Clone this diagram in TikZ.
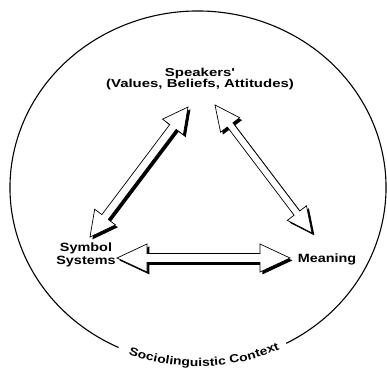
\documentclass[tikz,border=0pt]{standalone}
\usepackage{fontspec}
\usetikzlibrary{calc,decorations.text}
\newfontfamily\lblfont[FakeStretch=1.2]{Liberation Sans}
\newfontfamily\spkfont[FakeStretch=1.3]{Liberation Sans}

\begin{document}
\begin{tikzpicture}[x=1pt, y=1pt]
    \tikzstyle{lbl}=[inner sep=0pt, align=center, font=\lblfont\bfseries\fontsize{12}{13.5}\selectfont]
    \tikzstyle{barr}=[draw, line width=0.7pt, fill=white, line join=miter,
        preaction={fill=black, transform canvas={shift={(2.4pt,-2.4pt)}}}]
    \tikzset{blk/.style n args={3}{to path={
        let \p1=(\tikztostart), \p2=(\tikztotarget),
            \n1={atan2(\y2-\y1,\x2-\x1)}, \n2={veclen(\x2-\x1,\y2-\y1)} in
        [shift={(\p1)}, rotate=\n1]
        (0,0) -- (#1,#2) -- (#1,#3) -- (\n2-#1,#3) -- (\n2-#1,#2) -- (\n2,0)
        -- (\n2-#1,-#2) -- (\n2-#1,-#3) -- (#1,-#3) -- (#1,-#2) -- cycle}}}

    \useasboundingbox (0,0) rectangle (387,368);

    % context ring
    \draw[line width=1.1pt] (198,180.5) ++(298:188 and 176.5)
        arc[start angle=298, end angle=605, x radius=188, y radius=176.5];
    \path[decorate, decoration={text along path, text align=center, raise=-2.5pt,
        text={|\lblfont\bfseries\fontsize{11.5}{12}\selectfont|Sociolinguistic Context}}]
        (198,180.5) ++(243:188 and 176.5) arc[start angle=243, end angle=301, x radius=188, y radius=176.5];

    \node[lbl, font=\spkfont\bfseries\fontsize{11.5}{11}\selectfont] (spk) at (200,289) {Speakers'\\(Values, Beliefs, Attitudes)};
    \node[lbl] (sym) at (86,113) {Symbol\\Systems};
    \node[lbl] (mea) at (327,109) {Meaning};

    \draw[barr] ($(sym)+(4,18)$) to[blk={25}{13}{4}] ($(spk)+(-12,-28)$);
    \draw[barr] ($(spk)+(15,-26)$) to[blk={25}{12}{3.5}] ($(mea)+(-15,26)$);
    \draw[barr] ($(sym)+(31,-3)$) to[blk={30}{14}{4.5}] ($(mea)+(-37,1)$);
\end{tikzpicture}
\end{document}
